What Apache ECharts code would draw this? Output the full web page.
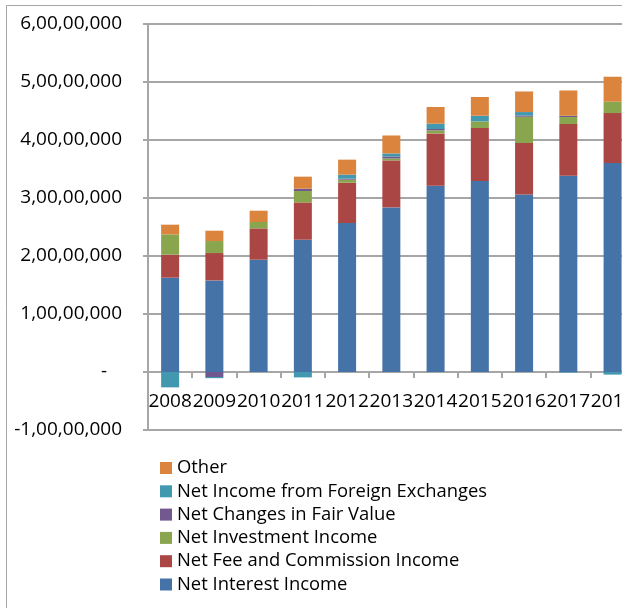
<!DOCTYPE html>
<html>
<head>
<meta charset="utf-8">
<script src="https://cdn.jsdelivr.net/npm/echarts@6/dist/echarts.min.js"></script>
<style>
  html, body { margin: 0; padding: 0; background: #fff; }
  #chart { width: 622px; height: 608px; }
</style>
</head>
<body>
<div id="chart"></div>
<script>
// data
const years = ['2008', '2009', '2010', '2011', '2012', '2013', '2014', '2015', '2016', '2017', '2018']
const netInterest = [16260000, 15790000, 19360000, 22810000, 25690000, 28380000, 32120000, 32930000, 30620000, 33840000, 36030000]
const netFee = [3970000, 4720000, 5400000, 6430000, 6950000, 8100000, 9020000, 9140000, 8860000, 8910000, 8620000]
const netInvestment = [3500000, 2070000, 1100000, 1970000, 520000, 340000, 520000, 1140000, 4530000, 1210000, 1950000]
const fairValue = [0, -860000, 0, 400000, 170000, 340000, 240000, 0, 220000, 220000, 0]
const foreignEx = [-2650000, -200000, 0, -930000, 690000, 520000, 910000, 980000, 590000, -100000, -450000]
const other = [1670000, 1780000, 1950000, 2070000, 2590000, 3100000, 2880000, 3220000, 3550000, 4360000, 4310000]
const yTicks = { min: -10000000, max: 60000000, step: 10000000 }

const seriesNames = [
  'Net Interest Income',
  'Net Fee and Commission Income',
  'Net Investment Income',
  'Net Changes in Fair Value',
  'Net Income from Foreign Exchanges',
  'Other'
]
const seriesData = [netInterest, netFee, netInvestment, fairValue, foreignEx, other]
const colors = ['#4572A7', '#AA4643', '#89A54E', '#71588F', '#4198AF', '#DB843D']

// 6,00,00,000 style
const indian = v => {
  if (v === 0) return '-   '
  const neg = v < 0
  const s = String(Math.abs(v))
  const last3 = s.slice(-3)
  let rest = s.slice(0, -3)
  rest = rest.replace(/\B(?=(\d{2})+(?!\d))/g, ',')
  return (neg ? '-' : '') + (rest ? rest + ',' + last3 : last3)
}

const font = '"Open Sans", "Noto Sans", sans-serif'
const gray = '#a6a6a6'

const gridTop = 24
const gridHeight = 406
// x axis sits on the zero line
const zeroOffset = -gridHeight * (0 - yTicks.min) / (yTicks.max - yTicks.min)

const chart = echarts.init(document.getElementById('chart'))
chart.setOption({
  animation: false,
  color: colors,
  textStyle: { fontFamily: font },
  graphic: [{
    type: 'rect',
    shape: { x: 6.5, y: 5.5, width: 1000, height: 1000 },
    style: { fill: 'none', stroke: gray, lineWidth: 1 },
    silent: true
  }],
  grid: {
    left: 148,
    top: gridTop,
    width: 486.7,
    height: gridHeight,
    outerBoundsMode: 'none'
  },
  legend: {
    orient: 'vertical',
    left: 160,
    top: 459,
    padding: 0,
    icon: 'rect',
    itemWidth: 12,
    itemHeight: 12,
    itemGap: 5.3,
    height: 150,
    data: seriesNames.slice().reverse(),
    textStyle: { fontFamily: font, fontSize: 18.4, color: '#000' }
  },
  xAxis: {
    type: 'category',
    data: years,
    offset: zeroOffset,
    axisLine: { onZero: false, lineStyle: { color: gray, width: 2 } },
    axisTick: { show: true, length: 6, lineStyle: { color: gray, width: 2 } },
    axisLabel: { interval: 0, margin: 20, fontSize: 19, color: '#000', fontFamily: font }
  },
  yAxis: {
    type: 'value',
    min: yTicks.min,
    max: yTicks.max,
    interval: yTicks.step,
    axisLine: { show: true, lineStyle: { color: gray, width: 2 } },
    axisTick: { show: true, length: 5, lineStyle: { color: gray, width: 2 } },
    splitLine: { show: true, lineStyle: { color: gray, width: 2 } },
    axisLabel: { margin: 26, fontSize: 19, color: '#000', fontFamily: font, formatter: indian }
  },
  series: seriesNames.map((name, i) => ({
    name: name,
    type: 'bar',
    stack: 'total',
    barWidth: 18,
    data: seriesData[i]
  }))
})
</script>
</body>
</html>
